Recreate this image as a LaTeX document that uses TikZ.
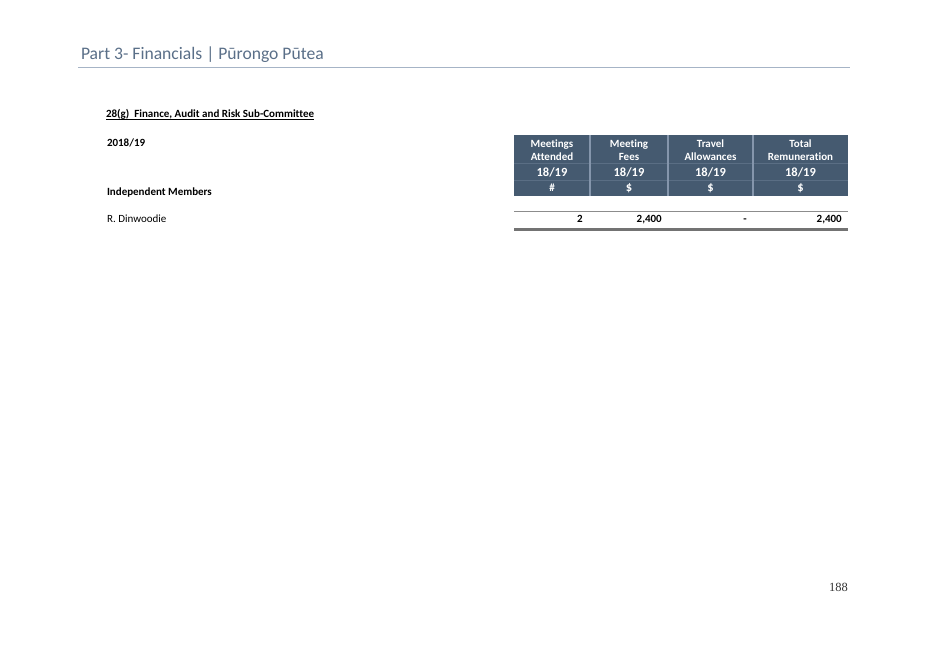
\documentclass[tikz,border=0pt]{standalone}
\usepackage{fontspec}
\setmainfont{Carlito}[Ligatures=NoCommon]
\newfontfamily\numfont{Liberation Serif}
\definecolor{hdr}{HTML}{455A70}
\definecolor{hdrline}{HTML}{8596AC}
\definecolor{hdrrow}{HTML}{5A6E84}
\definecolor{titlecol}{HTML}{5A6F88}
\definecolor{titleline}{HTML}{A6B4C6}
\begin{document}
\begin{tikzpicture}[x=1pt,y=-1pt,
  txt/.style={inner sep=0pt,outer sep=0pt,anchor=base west,font=\fontsize{11}{12}\selectfont},
  btxt/.style={txt,font=\fontsize{11}{12}\selectfont\bfseries},
  hd/.style={inner sep=0pt,anchor=base,text=white,font=\fontsize{11}{12}\selectfont\bfseries},
  hdbig/.style={hd,font=\fontsize{12.5}{13}\selectfont\bfseries},
  num/.style={inner sep=0pt,anchor=base east,font=\fontsize{11}{12}\selectfont\bfseries}]
\useasboundingbox[fill=white] (0,0) rectangle (928,656);
% title
\node[txt,text=titlecol,font=\fontsize{17.6}{20}\selectfont] (title) at (81,59) {Part 3- Financials | Pūrongo Pūtea};
\coordinate (tl1) at (78,67.5);
\coordinate (tl2) at (850,67.5);
\draw[titleline,line width=1.2pt] (tl1) -- (tl2);
% heading
\node[btxt] (head) at (106,117) {28(g)\ \ Finance, Audit and Risk Sub-Committee};
\draw[line width=0.8pt] ([yshift=-2.3pt]head.base west) -- ([yshift=-2.3pt]head.base east);
\node[btxt] (yr) at (107,146.5) {2018/19};
\node[btxt] (ind) at (107,195.5) {Independent Members};
\node[txt] (rd) at (107,222) {R. Dinwoodie};
% header block
\fill[hdr] (514,135) rectangle (848,196);
\draw[hdrrow,line width=0.8pt] (514,163) -- (848,163);
\draw[hdrrow,line width=0.8pt] (514,180) -- (848,180);
\foreach \xx in {590,668,753} \draw[hdrline,line width=1.2pt] (\xx,135) -- (\xx,196);
% header texts
\node[hd] (h1a) at (552,147) {Meetings};
\node[hd] (h1b) at (552,160.5) {Attended};
\node[hdbig] (h1c) at (552,176.7) {18/19};
\node[hd] (h1d) at (552,191.5) {\#};
\node[hd] (h2a) at (629,147) {Meeting};
\node[hd] (h2b) at (629,160.5) {Fees};
\node[hdbig] (h2c) at (629,176.7) {18/19};
\node[hdbig] (h2d) at (629,191.5) {\$};
\node[hd] (h3a) at (710.5,147) {Travel};
\node[hd] (h3b) at (710.5,160.5) {Allowances};
\node[hdbig] (h3c) at (710.5,176.7) {18/19};
\node[hdbig] (h3d) at (710.5,191.5) {\$};
\node[hd] (h4a) at (800.5,147) {Total};
\node[hd] (h4b) at (800.5,160.5) {Remuneration};
\node[hdbig] (h4c) at (800.5,176.7) {18/19};
\node[hdbig] (h4d) at (800.5,191.5) {\$};
% rules
\draw[black!45,line width=1pt] (514,211.5) -- (848,211.5);
\draw[black!55,line width=2.6pt] (514,229.3) -- (848,229.3);
% data
\node[num] (d1) at (583,222.5) {2};
\node[num] (d2) at (662,222.5) {2,400};
\node[num] (d3) at (747,222.5) {-};
\node[num] (d4) at (842,222.5) {2,400};
% page number
\node[inner sep=0pt,anchor=base east,font=\numfont\fontsize{12.5}{13}\selectfont,text=black!80] (pg) at (848,591) {188};
\end{tikzpicture}
\end{document}
